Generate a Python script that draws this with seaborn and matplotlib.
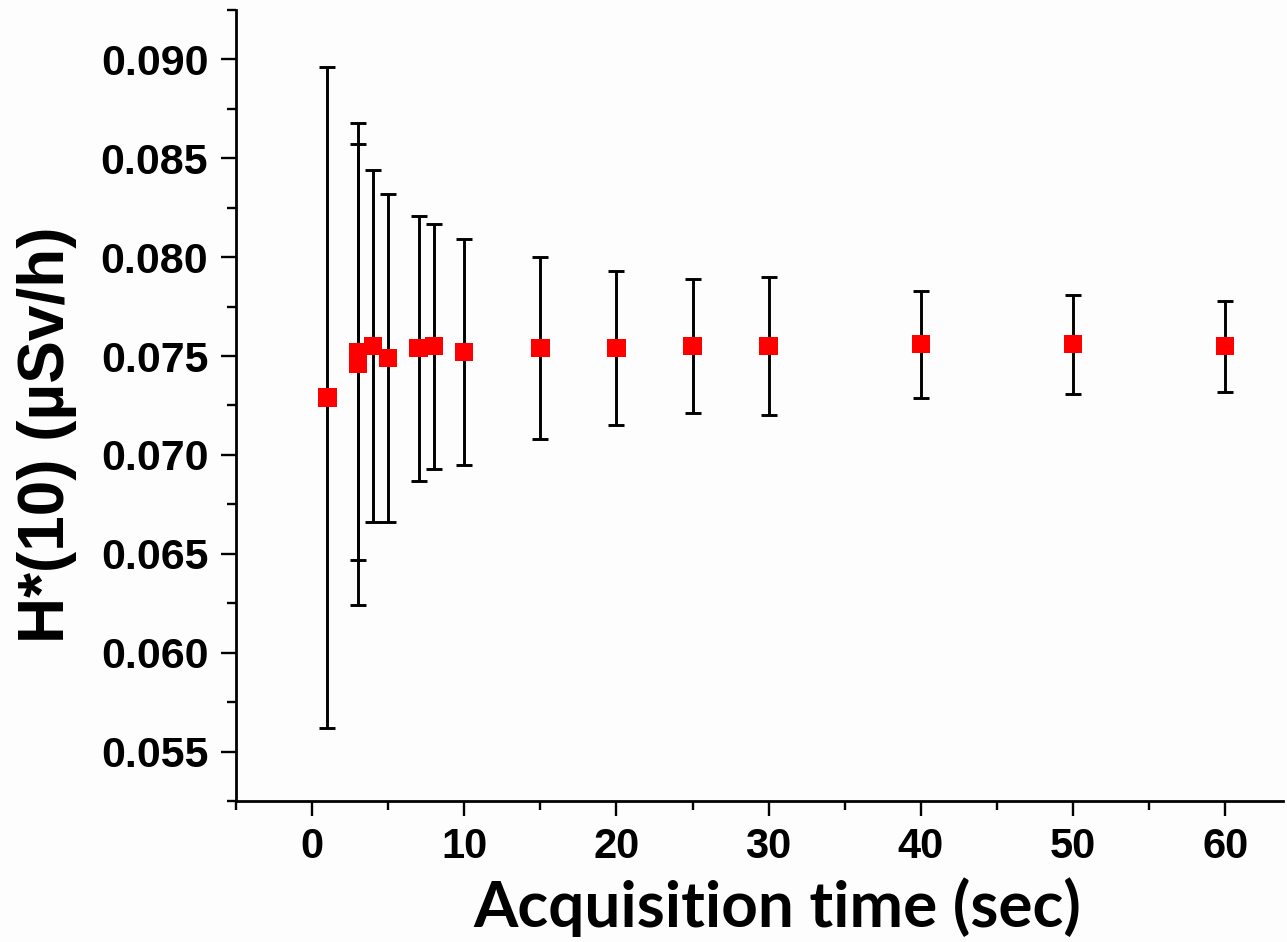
import numpy as np
import pandas as pd
import seaborn as sns
import matplotlib.pyplot as plt
from matplotlib.ticker import MultipleLocator, FormatStrFormatter

# acquisition time (s), dose rate and its uncertainty
time_s = [1, 3, 3, 4, 5, 7, 8, 10, 15, 20, 25, 30, 40, 50, 60]
dose = [0.0729, 0.0746, 0.0752, 0.0755, 0.0749, 0.0754, 0.0755, 0.0752,
        0.0754, 0.0754, 0.0755, 0.0755, 0.0756, 0.0756, 0.0755]
err = [0.0167, 0.0122, 0.0105, 0.0089, 0.0083, 0.0067, 0.0062, 0.0057,
       0.0046, 0.0039, 0.0034, 0.0035, 0.0027, 0.0025, 0.0023]

df = pd.DataFrame({"t": time_s, "h": dose, "err": err})

sns.set_style("ticks", {"axes.edgecolor": "black", "text.color": "black",
                        "xtick.color": "black", "ytick.color": "black",
                        "axes.labelcolor": "black"})
fig = plt.figure(figsize=(12.87, 9.42), dpi=100)
fig.patch.set_facecolor("#fdfdfd")
ax = fig.add_axes([0.1834, 0.1497, 0.8135, 0.8397])
ax.set_facecolor("#fdfdfd")

ax.errorbar(df["t"], df["h"], yerr=df["err"], fmt="none", ecolor="black",
            elinewidth=2.1, capsize=6, capthick=2.1, zorder=2)
sns.scatterplot(data=df, x="t", y="h", marker="s", s=175, color="#ff0000",
                edgecolor="none", linewidth=0, ax=ax, zorder=3)

ax.set_xlim(-5, 63.8)
ax.set_ylim(0.0525, 0.0925)
ax.xaxis.set_major_locator(MultipleLocator(10))
ax.xaxis.set_minor_locator(MultipleLocator(5))
ax.yaxis.set_major_locator(MultipleLocator(0.005))
ax.yaxis.set_minor_locator(MultipleLocator(0.0025))
ax.yaxis.set_major_formatter(FormatStrFormatter("%.3f"))

sns.despine(ax=ax)
for s in ["left", "bottom"]:
    ax.spines[s].set_linewidth(2)
    ax.spines[s].set_color("black")
ax.tick_params(which="major", length=11, width=1.7, direction="out", colors="black")
ax.tick_params(which="minor", length=6.5, width=1.7, direction="out", colors="black")
ax.tick_params(axis="y", which="major", pad=9)
ax.tick_params(axis="x", which="major", pad=8)

for lab in ax.get_yticklabels():
    lab.set_fontfamily(["Liberation Sans", "DejaVu Sans"])
    lab.set_fontweight("bold")
    lab.set_fontsize(31)
for lab in ax.get_xticklabels():
    lab.set_fontfamily(["Liberation Sans", "DejaVu Sans"])
    lab.set_fontweight("bold")
    lab.set_fontsize(30)

ax.set_ylabel("H*(10) (µSv/h)", fontfamily=["Liberation Sans", "DejaVu Sans"],
              fontweight="bold", fontsize=46, color="black")
ax.yaxis.set_label_coords(-0.152, 0.463)
ax.set_xlabel("Acquisition time (sec)", fontfamily=["Lato", "DejaVu Sans"],
              fontweight="bold", fontsize=46, color="black")
ax.xaxis.set_label_coords(0.517, -0.097)

fig.savefig("out.png", dpi=100, facecolor=fig.get_facecolor())
